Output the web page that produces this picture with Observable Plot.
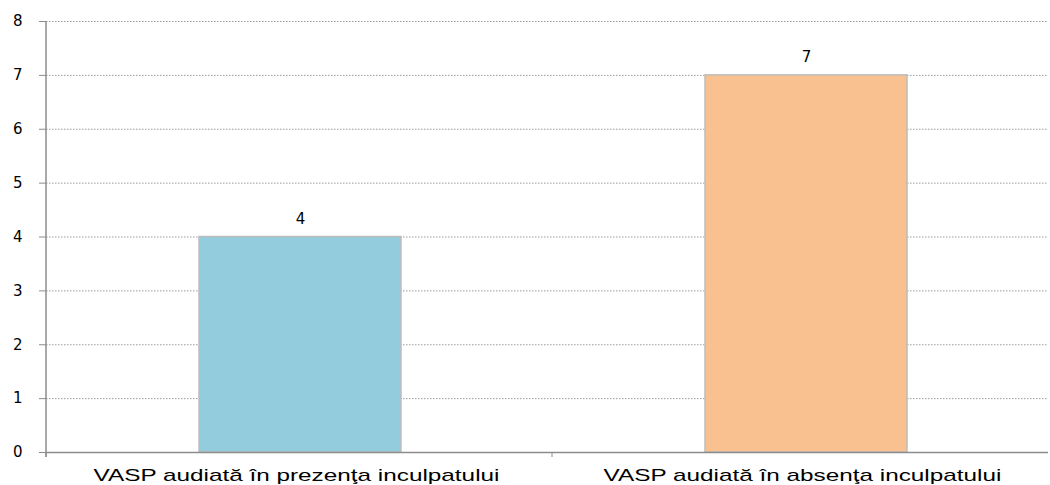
<!DOCTYPE html>
<html>
<head>
<meta charset="utf-8">
<script src="https://cdn.jsdelivr.net/npm/d3@7"></script>
<script src="https://cdn.jsdelivr.net/npm/@observablehq/plot@0.6"></script>
<style>
  html, body { margin: 0; padding: 0; background: #fff; }
  #chart svg { display: block; }
</style>
</head>
<body>
<div id="chart"></div>
<script>
const categories = ["VASP audiată în prezenţa inculpatului", "VASP audiată în absenţa inculpatului"];
const values = [4, 7];
const colors = ["#93CDDD", "#F9C090"];
const yTicks = [0, 1, 2, 3, 4, 5, 6, 7, 8];

const data = categories.map((c, i) => ({category: c, value: values[i], color: colors[i]}));

const W = 1050, H = 485;
const mLeft = 46, mTop = 21, mBottom = 33;
const xRange = [47.5, 1059.5];
const step = (xRange[1] - xRange[0]) / categories.length;

const chart = Plot.plot({
  width: W,
  height: H,
  marginLeft: mLeft,
  marginRight: 2,
  marginTop: mTop,
  marginBottom: mBottom,
  style: {fontFamily: "DejaVu Sans, Verdana, sans-serif", background: "#fff", overflow: "visible"},
  x: {domain: categories, range: xRange, paddingInner: 0.6, paddingOuter: 0.3, align: 0.5, label: null},
  y: {domain: [0, 8], ticks: yTicks, label: null},
  marks: [
    Plot.ruleY(yTicks.filter(d => d > 0), {stroke: "#9a9a9a", strokeWidth: 1, strokeDasharray: "1.5,1.5"}),
    Plot.barY(data, {x: "category", y: "value", fill: "color", stroke: "#BDBDBD", strokeWidth: 1.5}),
    Plot.text(data, {x: "category", y: "value", text: d => String(d.value), dy: -18, fontSize: 15, fill: "#000"}),
    Plot.ruleY([0], {stroke: "#8c8c8c", strokeWidth: 1.5}),
    Plot.axisY({ticks: yTicks, tickSize: 7, tickPadding: 17, stroke: "#8c8c8c", fontSize: 15, color: "#000", label: null, tickFormat: d => String(d)}),
    Plot.axisX({tickSize: 5, dx: -step / 2 - 1.5, tickFormat: () => "", stroke: "#8c8c8c", label: null}),
    Plot.axisX({tickSize: 0, tickPadding: 16, fontSize: 17, fill: "#000", label: null, tickFormat: d => d})
  ]
});

document.getElementById("chart").appendChild(chart);

// y axis line along the left edge of the plot frame
const svg = d3.select(chart);
svg.append("line")
  .attr("x1", mLeft).attr("x2", mLeft)
  .attr("y1", mTop).attr("y2", H - mBottom + 5)
  .attr("stroke", "#8c8c8c").attr("stroke-width", 1.5);

// widen x labels like the reference's stretched font
const stretch = 1.43;
svg.selectAll('g[aria-label="x-axis tick label"] text').each(function() {
  this.setAttribute("font-family", "Liberation Sans, Arial, sans-serif");
  const len = this.getComputedTextLength();
  this.setAttribute("textLength", (len * stretch).toFixed(1));
  this.setAttribute("lengthAdjust", "spacingAndGlyphs");
  this.setAttribute("dx", "-4");
});
</script>
</body>
</html>
